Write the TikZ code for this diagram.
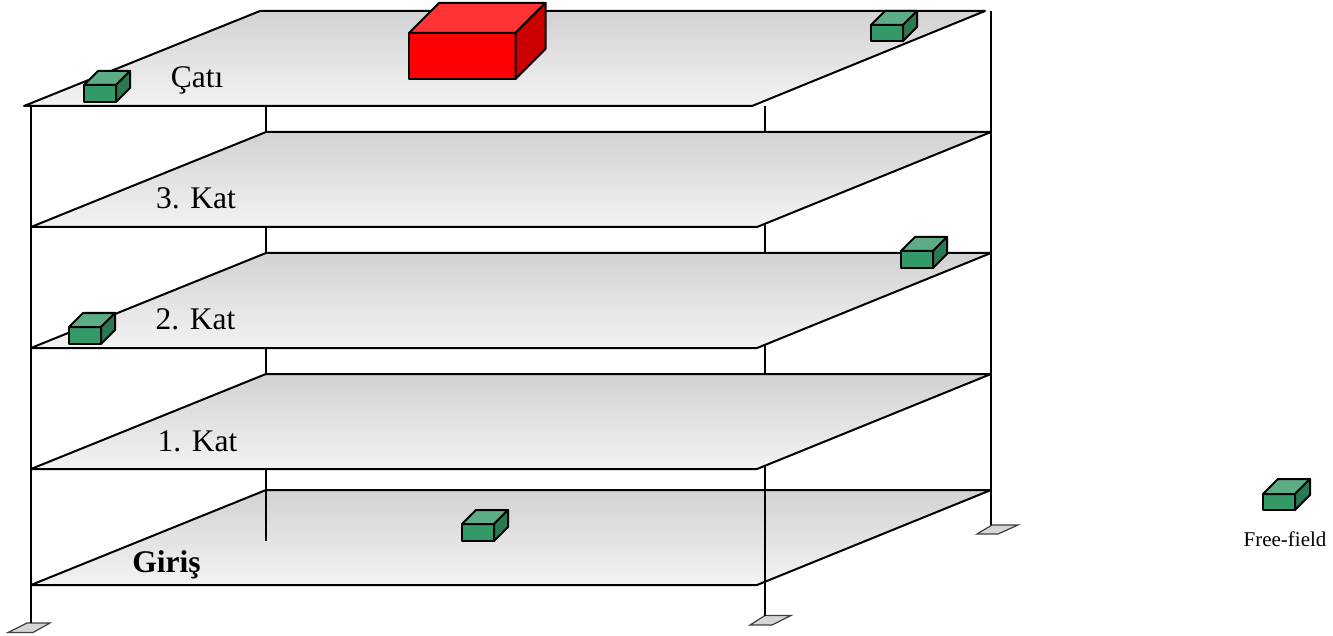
\documentclass[tikz,border=0pt]{standalone}
\usepackage{fontspec}
\setmainfont{Liberation Serif}
\definecolor{gfront}{HTML}{339966}
\definecolor{gtop}{HTML}{5CAD85}
\definecolor{gside}{HTML}{297A52}
\definecolor{rfront}{HTML}{FF0000}
\definecolor{rtop}{HTML}{FF3333}
\definecolor{rside}{HTML}{CC0000}
\definecolor{slabtop}{HTML}{D2D2D2}
\definecolor{slabbot}{HTML}{F3F3F3}
\tikzset{
  line/.style={draw=black,line width=2pt,line join=round},
  slab/.style={line,top color=slabtop,bottom color=slabbot},
  footing/.style={draw=black!75,line width=1.2pt,fill=black!16},
  lab/.style={anchor=base,inner sep=0pt,font=\fontsize{31.5}{36}\selectfont},
}
% x y (top-left of front face), width, height, depth, colour prefix
\newcommand{\crate}[6]{%
  \path[line,fill=#6front] (#1,#2) rectangle (#1+#3,#2+#4);
  \path[line,fill=#6top] (#1,#2) -- (#1+#5,#2-#5) -- (#1+#3+#5,#2-#5) -- (#1+#3,#2) -- cycle;
  \path[line,fill=#6side] (#1+#3,#2) -- (#1+#3+#5,#2-#5) -- (#1+#3+#5,#2+#4-#5) -- (#1+#3,#2+#4) -- cycle;
}
\begin{document}
\begin{tikzpicture}[x=1pt,y=-1pt]
\useasboundingbox (0,0) rectangle (1333,636);
% footings
\path[footing] (8,632.5) -- (33,632.5) -- (50,623) -- (27,623) -- cycle;
\path[footing] (750,625) -- (772,625) -- (791,615.5) -- (765,615.5) -- cycle;
\path[footing] (977,534) -- (998,534) -- (1018,525) -- (992,525) -- cycle;
% columns
\draw[line] (266,106) -- (266,490);
\draw[line] (765,106) -- (765,469);
% slabs
\path[slab] (24,106) -- (752,106) -- (985,11) -- (260,11) -- cycle;
\path[slab] (31,227) -- (757,227) -- (991,132) -- (266,132) -- cycle;
\path[slab] (31,348) -- (757,348) -- (991,253) -- (266,253) -- cycle;
\path[slab] (31,469) -- (757,469) -- (991,374) -- (266,374) -- cycle;
\path[slab] (31,585) -- (757,585) -- (991,490) -- (266,490) -- cycle;
% columns in front
\draw[line] (31,106) -- (31,623);
\draw[line] (991,11) -- (991,525);
\draw[line] (266,490) -- (266,541);
\draw[line] (765,469) -- (765,615.5);
% sensors
\crate{84}{85}{32}{17}{14}{g}
\crate{871}{25}{32}{16}{14}{g}
\crate{901}{251}{32}{17}{14}{g}
\crate{69}{327}{32}{17}{14}{g}
\crate{462}{524}{32}{17}{14}{g}
\crate{1263}{494}{32}{16}{15}{g}
\crate{409}{33}{106.5}{46}{30}{r}
% labels
\node[lab] (roof) at (197,88) {Çatı};
\node[lab] (third) at (196,209) {3. Kat};
\node[lab] (second) at (195.5,330) {2. Kat};
\node[lab] (first) at (197.5,451) {1. Kat};
\node[lab,font=\fontsize{31.5}{36}\selectfont\bfseries] (ground) at (166.5,572) {Giriş};
\node[lab,font=\fontsize{21}{25}\selectfont] (free) at (1285,546) {Free-field};
\end{tikzpicture}
\end{document}
